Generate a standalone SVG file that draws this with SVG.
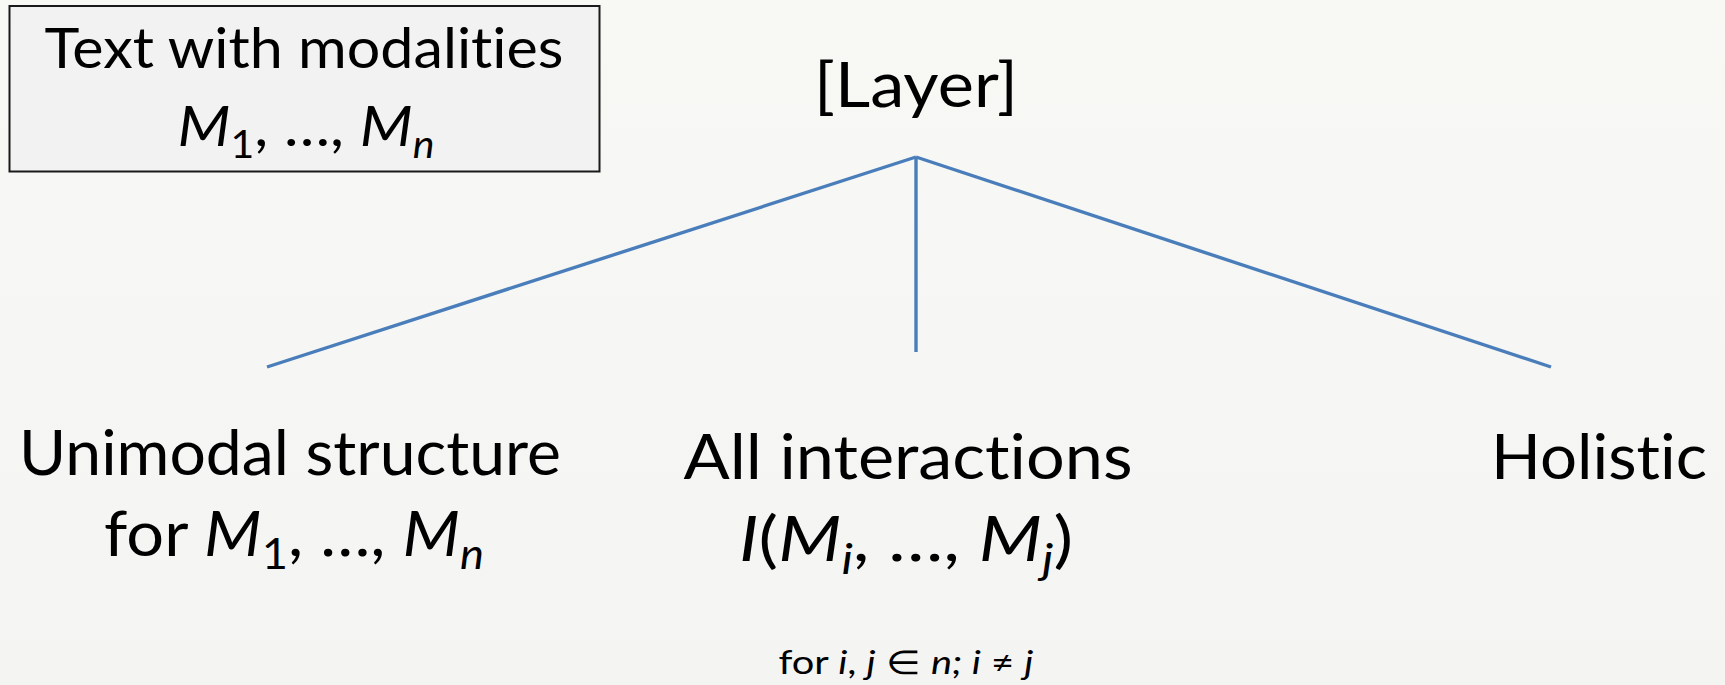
<svg xmlns="http://www.w3.org/2000/svg" width="1725" height="685" viewBox="0 0 1725 685">
<defs>
<linearGradient id="bg" x1="0" y1="0" x2="0" y2="1">
<stop offset="0" stop-color="#f8f8f5"/>
<stop offset="1" stop-color="#f4f4f3"/>
</linearGradient>
</defs>
<style>
text{font-family:Lato,"Open Sans","Liberation Sans",sans-serif;fill:#000;text-anchor:middle;font-variant-ligatures:none}
.big{font-size:62px}
.box{font-size:57px}
.small{font-size:33px;font-weight:normal}
.it{font-style:italic}
.edge{stroke:#4a7ebb;stroke-width:3.4;fill:none}
</style>
<rect width="1725" height="685" fill="url(#bg)"/>
<g id="modalities">
<rect x="9.5" y="6" width="590" height="165.5" fill="#f2f2f2" stroke="#1a1a1a" stroke-width="2"/>
<text class="box" x="304" y="68" textLength="519" lengthAdjust="spacingAndGlyphs">Text with modalities</text>
<text class="box" x="306" y="146" textLength="257" lengthAdjust="spacingAndGlyphs"><tspan class="it">M</tspan><tspan font-size="38" dy="12">1</tspan><tspan dy="-12">, …, </tspan><tspan class="it">M</tspan><tspan class="it" font-size="38" dy="12">n</tspan></text>
</g>
<g id="layer">
<text class="big" x="916" y="107" textLength="204" lengthAdjust="spacingAndGlyphs">[Layer]</text>
</g>
<g id="connectors">
<line class="edge" x1="916" y1="157" x2="267" y2="367"/>
<line class="edge" x1="916" y1="157" x2="916" y2="352"/>
<line class="edge" x1="916" y1="157" x2="1551" y2="367"/>
</g>
<g id="unimodal">
<text class="big" x="290" y="475" textLength="542" lengthAdjust="spacingAndGlyphs">Unimodal structure</text>
<text class="big" x="294" y="556" textLength="380" lengthAdjust="spacingAndGlyphs">for <tspan class="it">M</tspan><tspan font-size="42" dy="13">1</tspan><tspan dy="-13">, …, </tspan><tspan class="it">M</tspan><tspan class="it" font-size="42" dy="13">n</tspan></text>
</g>
<g id="interactions">
<text class="big" x="908" y="479" textLength="449" lengthAdjust="spacingAndGlyphs">All interactions</text>
<text class="big" x="906" y="561" textLength="334" lengthAdjust="spacingAndGlyphs"><tspan class="it">I</tspan>(<tspan class="it">M</tspan><tspan class="it" font-size="42" dy="13">i</tspan><tspan dy="-13">, …, </tspan><tspan class="it">M</tspan><tspan class="it" font-size="42" dy="13">j</tspan><tspan dy="-13">)</tspan></text>
<text class="small" x="906" y="674" textLength="255" lengthAdjust="spacingAndGlyphs">for <tspan class="it">i</tspan>, <tspan class="it">j</tspan> ∈ <tspan class="it">n; i</tspan> ≠ <tspan class="it">j</tspan></text>
</g>
<g id="holistic">
<text class="big" x="1599" y="479" textLength="216" lengthAdjust="spacingAndGlyphs">Holistic</text>
</g>
</svg>
